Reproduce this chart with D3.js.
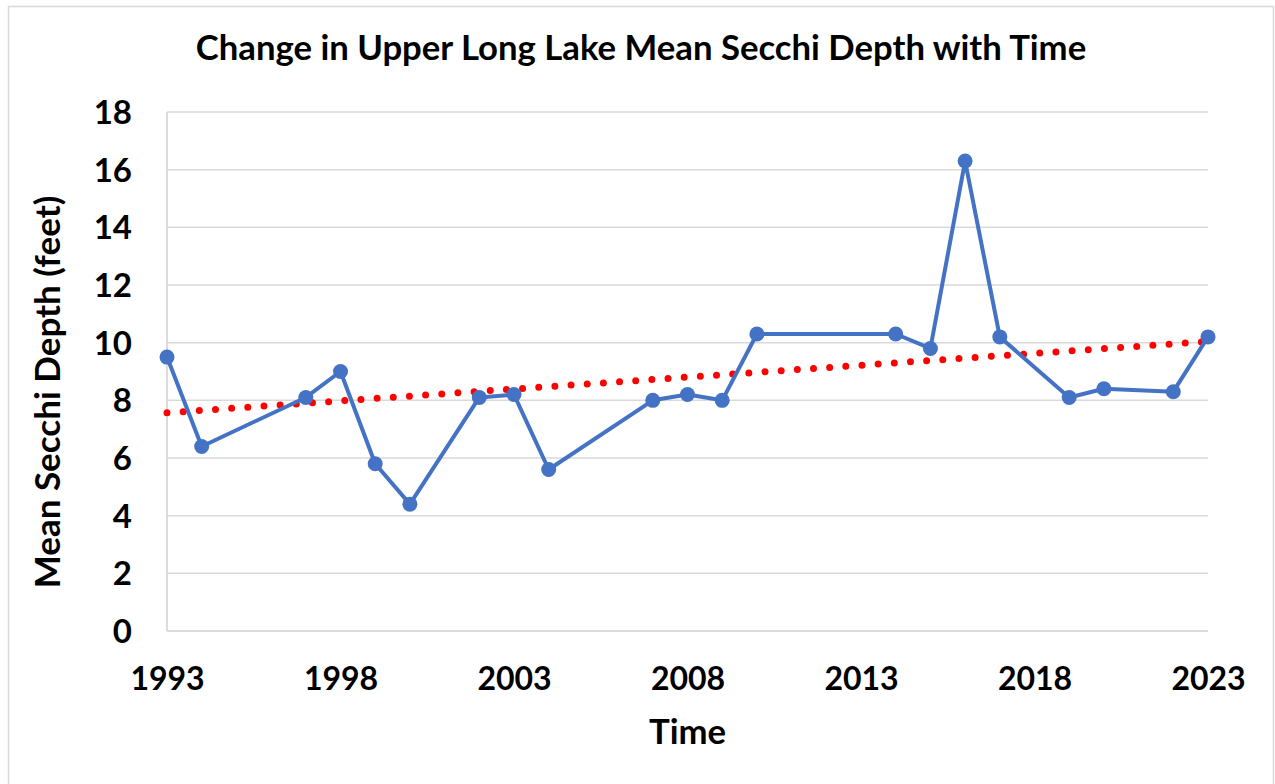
<!DOCTYPE html>
<html>
<head>
<meta charset="utf-8">
<script src="https://cdn.jsdelivr.net/npm/d3@7"></script>
<style>
  body { margin: 0; background: #fff; }
  text { font-family: Lato, "Open Sans", sans-serif; font-weight: bold; fill: #000; }
</style>
</head>
<body>
<div id="chart"></div>
<script>
// Secchi depth data
const years = [1993, 1994, 1997, 1998, 1999, 2000, 2002, 2003, 2004, 2007, 2008, 2009, 2010, 2014, 2015, 2016, 2017, 2019, 2020, 2022, 2023];
const depths = [9.5, 6.4, 8.1, 9.0, 5.8, 4.4, 8.1, 8.2, 5.6, 8.0, 8.2, 8.0, 10.3, 10.3, 9.8, 16.3, 10.2, 8.1, 8.4, 8.3, 10.2];
// linear trendline end points as shown on the chart
const trendYears = [1993, 2023];
const trendValues = [7.57, 10.04];
const xTicks = [1993, 1998, 2003, 2008, 2013, 2018, 2023];
const yTicks = [0, 2, 4, 6, 8, 10, 12, 14, 16, 18];

const width = 1275;
const height = 784;
const margin = {left: 167, right: 67, top: 112, bottom: 153};

const svg = d3.select("#chart")
  .append("svg")
  .attr("width", width)
  .attr("height", height);

// chart border
svg.append("rect")
  .attr("x", 8.5).attr("y", 6.5)
  .attr("width", 1265).attr("height", 800)
  .attr("fill", "#fff")
  .attr("stroke", "#d9d9d9")
  .attr("stroke-width", 1.5);

const x = d3.scaleLinear()
  .domain([1993, 2023])
  .range([margin.left, width - margin.right]);

const y = d3.scaleLinear()
  .domain([0, 18])
  .range([height - margin.bottom, margin.top]);

// gridlines
svg.append("g")
  .selectAll("line")
  .data(yTicks.filter(d => d > 0))
  .join("line")
  .attr("x1", x(1993)).attr("x2", x(2023))
  .attr("y1", d => y(d)).attr("y2", d => y(d))
  .attr("stroke", "#d9d9d9")
  .attr("stroke-width", 1.5);

// axes lines
svg.append("line")
  .attr("x1", x(1993)).attr("x2", x(2023))
  .attr("y1", y(0)).attr("y2", y(0))
  .attr("stroke", "#d0d0d0").attr("stroke-width", 1.5);
svg.append("line")
  .attr("x1", x(1993)).attr("x2", x(1993))
  .attr("y1", y(0)).attr("y2", y(18))
  .attr("stroke", "#d0d0d0").attr("stroke-width", 1.5);

// tick labels
const yAxis = svg.append("g")
  .attr("transform", `translate(${x(1993)},0)`)
  .call(d3.axisLeft(y).tickValues(yTicks).tickSize(0).tickPadding(35));
yAxis.select(".domain").remove();
yAxis.selectAll("text")
  .attr("font-family", "Lato, sans-serif")
  .attr("font-weight", "bold")
  .attr("font-size", 33)
  .attr("dy", "0.35em");

const xAxis = svg.append("g")
  .attr("transform", `translate(0,${y(0)})`)
  .call(d3.axisBottom(x).tickValues(xTicks).tickFormat(d3.format("d")).tickSize(0));
xAxis.select(".domain").remove();
xAxis.selectAll("text")
  .attr("font-family", "Lato, sans-serif")
  .attr("font-weight", "bold")
  .attr("font-size", 32)
  .attr("y", 59)
  .attr("dy", 0);

// trendline (red dotted)
const trend = trendYears.map((d, i) => [d, trendValues[i]]);
svg.append("path")
  .datum(trend)
  .attr("d", d3.line().x(d => x(d[0])).y(d => y(d[1])))
  .attr("fill", "none")
  .attr("stroke", "#ff0000")
  .attr("stroke-width", 7)
  .attr("stroke-linecap", "round")
  .attr("stroke-dasharray", "0 16.2");

// series line
const pts = years.map((d, i) => [d, depths[i]]);
svg.append("path")
  .datum(pts)
  .attr("d", d3.line().x(d => x(d[0])).y(d => y(d[1])))
  .attr("fill", "none")
  .attr("stroke", "#4472c4")
  .attr("stroke-width", 4)
  .attr("stroke-linejoin", "round");

svg.append("g")
  .selectAll("circle")
  .data(pts)
  .join("circle")
  .attr("cx", d => x(d[0]))
  .attr("cy", d => y(d[1]))
  .attr("r", 7.5)
  .attr("fill", "#4472c4");

// titles
svg.append("text")
  .attr("x", 641).attr("y", 60)
  .attr("text-anchor", "middle")
  .attr("font-size", 34.7)
  .text("Change in Upper Long Lake Mean Secchi Depth with Time");

svg.append("text")
  .attr("x", x(2008)).attr("y", 744)
  .attr("text-anchor", "middle")
  .attr("font-size", 34.7)
  .text("Time");

svg.append("text")
  .attr("transform", `translate(60,392) rotate(-90)`)
  .attr("text-anchor", "middle")
  .attr("font-size", 35)
  .text("Mean Secchi Depth (feet)");
</script>
</body>
</html>
